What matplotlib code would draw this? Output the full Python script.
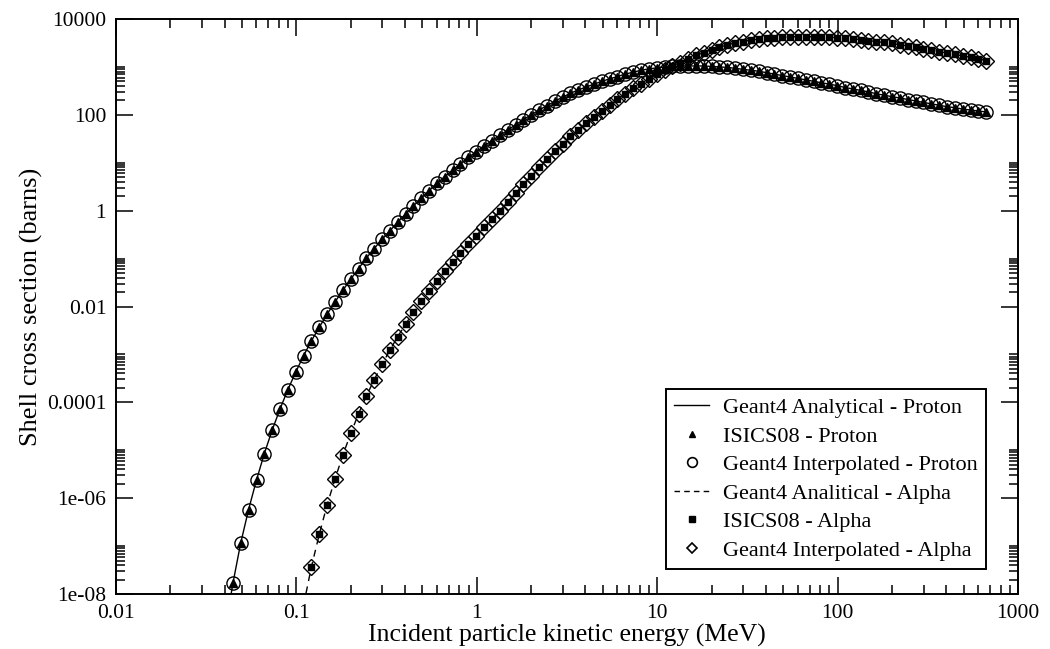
import numpy as np
import matplotlib
matplotlib.use("Agg")
import matplotlib.pyplot as plt
from matplotlib.lines import Line2D
from matplotlib.ticker import FixedLocator, FixedFormatter, NullFormatter

plt.rcParams["font.family"] = ["Liberation Serif", "DejaVu Serif"]

# incident energies (MeV); the first entry only carries the analytical proton line
energy_mev = [
    0.0402, 0.0445, 0.0491, 0.0543, 0.0601, 0.0664, 0.0734, 0.0811, 0.0896, 0.0991,
    0.1095, 0.121, 0.134, 0.148, 0.164, 0.181, 0.200, 0.221, 0.244, 0.270,
    0.298, 0.330, 0.364, 0.403, 0.445, 0.492, 0.544, 0.601, 0.665, 0.735,
    0.812, 0.897, 0.992, 1.10, 1.21, 1.34, 1.48, 1.64, 1.81, 2.00,
    2.21, 2.44, 2.70, 2.99, 3.30, 3.65, 4.03, 4.46, 4.93, 5.45,
    6.02, 6.65, 7.35, 8.13, 8.99, 9.93, 11.0, 12.1, 13.4, 14.8,
    16.4, 18.1, 20.0, 22.1, 24.5, 27.0, 29.9, 33.0, 36.5, 40.4,
    44.6, 49.3, 54.5, 60.3, 66.6, 73.6, 81.4, 90.0, 99.4, 110,
    122, 134, 148, 164, 181, 200, 222, 245, 271, 299,
    331, 366, 404, 447, 494, 546, 603, 667,
]

# log10 of K-shell cross section (barns), proton, same grid as energy_mev
proton_log_sigma = [
    -8.77, -7.77, -6.94, -6.24, -5.62, -5.07, -4.58, -4.14, -3.74, -3.37,
    -3.03, -2.72, -2.43, -2.16, -1.90, -1.66, -1.43, -1.21, -0.99, -0.79,
    -0.60, -0.42, -0.24, -0.07, 0.10, 0.26, 0.42, 0.57, 0.71, 0.85,
    0.98, 1.11, 1.23, 1.35, 1.46, 1.57, 1.68, 1.79, 1.90, 2.00,
    2.10, 2.19, 2.28, 2.37, 2.45, 2.52, 2.58, 2.64, 2.70, 2.75,
    2.80, 2.85, 2.89, 2.93, 2.96, 2.98, 3.00, 3.01, 3.02, 3.02,
    3.02, 3.02, 3.01, 3.00, 2.99, 2.97, 2.95, 2.93, 2.91, 2.88,
    2.85, 2.82, 2.79, 2.76, 2.73, 2.70, 2.67, 2.64, 2.61, 2.57,
    2.54, 2.51, 2.48, 2.44, 2.41, 2.38, 2.35, 2.32, 2.29, 2.26,
    2.23, 2.20, 2.17, 2.15, 2.12, 2.10, 2.08, 2.06,
]

# alpha values start at energy_mev[10] (0.1095 MeV)
alpha_start = 10
alpha_log_sigma = [
    -8.24, -7.44, -6.75, -6.14, -5.59, -5.10, -4.65, -4.24, -3.87, -3.53,
    -3.21, -2.91, -2.63, -2.37, -2.12, -1.89, -1.67, -1.46, -1.26, -1.07,
    -0.89, -0.70, -0.52, -0.35, -0.18, 0.00, 0.18, 0.36, 0.55, 0.73,
    0.91, 1.08, 1.24, 1.40, 1.55, 1.69, 1.83, 1.96, 2.09, 2.21,
    2.33, 2.44, 2.55, 2.65, 2.75, 2.85, 2.94, 3.02, 3.09, 3.17,
    3.24, 3.30, 3.36, 3.41, 3.46, 3.50, 3.53, 3.56, 3.58, 3.60,
    3.61, 3.62, 3.63, 3.63, 3.63, 3.63, 3.63, 3.62, 3.61, 3.60,
    3.59, 3.57, 3.55, 3.53, 3.51, 3.49, 3.46, 3.44, 3.41, 3.38,
    3.35, 3.32, 3.29, 3.26, 3.23, 3.20, 3.17, 3.13,
]

x_major = [0.01, 0.1, 1, 10, 100, 1000]
x_labels = ["0.01", "0.1", "1", "10", "100", "1000"]
y_major = [1e-8, 1e-6, 1e-4, 1e-2, 1, 1e2, 1e4]
y_labels = ["1e-08", "1e-06", "0.0001", "0.01", "1", "100", "10000"]

legend_labels = [
    "Geant4 Analytical - Proton",
    "ISICS08 - Proton",
    "Geant4 Interpolated - Proton",
    "Geant4 Analitical - Alpha",
    "ISICS08 - Alpha",
    "Geant4 Interpolated - Alpha",
]

e_p = np.array(energy_mev)
s_p = 10.0 ** np.array(proton_log_sigma)
e_a = e_p[alpha_start:]
s_a = 10.0 ** np.array(alpha_log_sigma)

fig = plt.figure(figsize=(10.5, 6.49), dpi=100)
ax = fig.add_axes([116 / 1050, 55 / 649, 902 / 1050, 575 / 649])

# proton
ax.plot(e_p, s_p, color="k", lw=1.0)
ax.plot(e_p[1:], s_p[1:], ls="none", marker="o", mfc="none", mec="k", ms=9.5, mew=1.0)
ax.plot(e_p[1:], s_p[1:], ls="none", marker="^", color="k", ms=6)
# alpha
ax.plot(e_a, s_a, color="k", lw=1.0, ls=(0, (5, 4)))
ax.plot(e_a[1:], s_a[1:], ls="none", marker="D", mfc="none", mec="k", ms=8, mew=1.0)
ax.plot(e_a[1:], s_a[1:], ls="none", marker="s", color="k", ms=4.5)

ax.set_xscale("log")
ax.set_yscale("log")
ax.set_xlim(0.01, 1000)
ax.set_ylim(1e-8, 1e4)

ax.xaxis.set_major_locator(FixedLocator(x_major))
ax.xaxis.set_major_formatter(FixedFormatter(x_labels))
ax.xaxis.set_minor_locator(FixedLocator([k * 10.0 ** d for d in range(-2, 3) for k in range(2, 10)]))
ax.xaxis.set_minor_formatter(NullFormatter())
ax.yaxis.set_major_locator(FixedLocator(y_major))
ax.yaxis.set_major_formatter(FixedFormatter(y_labels))
ax.yaxis.set_minor_locator(FixedLocator([k * 10.0 ** d for d in range(-8, 4, 2) for k in range(2, 11)]))
ax.yaxis.set_minor_formatter(NullFormatter())

ax.tick_params(which="both", direction="in", top=True, right=True, width=1.1)
ax.tick_params(which="major", length=12, pad=7, labelsize=15.5)
ax.tick_params(which="minor", length=6.5)
for sp in ax.spines.values():
    sp.set_linewidth(1.4)

ax.set_xlabel("Incident particle kinetic energy (MeV)", fontsize=18.5, labelpad=1)
ax.set_ylabel("Shell cross section (barns)", fontsize=19, labelpad=3)

handles = [
    Line2D([], [], color="k", lw=1.0),
    Line2D([], [], ls="none", marker="^", color="k", ms=5),
    Line2D([], [], ls="none", marker="o", mfc="none", mec="k", ms=7, mew=1.2),
    Line2D([], [], color="k", lw=1.0, ls=(0, (4, 3))),
    Line2D([], [], ls="none", marker="s", color="k", ms=4),
    Line2D([], [], ls="none", marker="D", mfc="none", mec="k", ms=5.5, mew=1.2),
]
leg = ax.legend(handles, legend_labels, loc="upper left", bbox_to_anchor=(0.6098, 0.3565),
                borderaxespad=0, fancybox=False, edgecolor="k", framealpha=1,
                fontsize=16, handlelength=1.55, handletextpad=0.62,
                labelspacing=0.36, borderpad=0.38)
leg.get_frame().set_linewidth(1.4)

fig.savefig("out.png", dpi=100)
